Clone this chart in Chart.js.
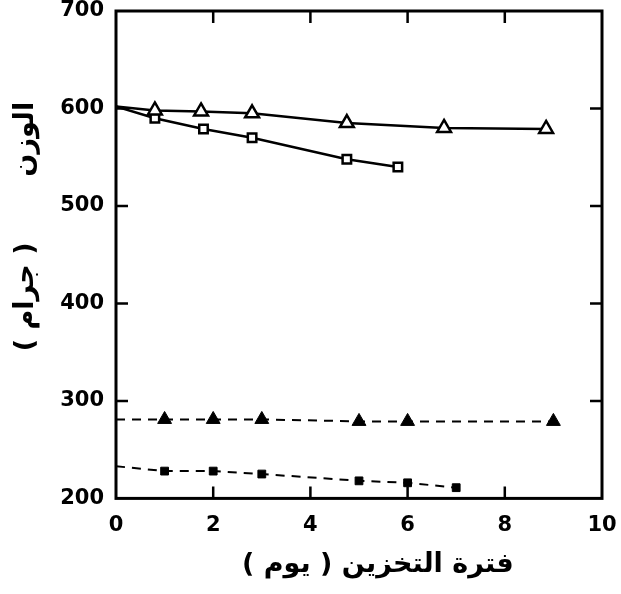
<!DOCTYPE html>
<html>
<head>
<meta charset="utf-8">
<script src="https://cdn.jsdelivr.net/npm/chart.js@4/dist/chart.umd.min.js"></script>
<style>
  html, body { margin: 0; padding: 0; background: #fff; }
  #wrap { width: 621px; height: 594px; }
</style>
</head>
<body>
<div id="wrap"><canvas id="chart" width="621" height="594"></canvas></div>
<script>
// values (storage days vs weight in grams)
const openTriX = [0, 0.8, 1.75, 2.8, 4.75, 6.75, 8.85];
const openTriY = [602, 598, 597, 595, 585, 580, 579];

const openSqX = [0, 0.8, 1.8, 2.8, 4.75, 5.8];
const openSqY = [602, 590, 579, 570, 548, 540];

const fillTriX = [0, 1, 2, 3, 5, 6, 9];
const fillTriY = [281, 281, 281, 281, 279, 279, 279];

const fillSqX = [0, 1, 2, 3, 5, 6, 7];
const fillSqY = [233, 228, 228, 225, 218, 216, 211];

const xTicks = [0, 2, 4, 6, 8, 10];
const yTicks = [200, 300, 400, 500, 600, 700];

// leading spaces nudge the titles to where they sit in the original
const xTitle = '    فترة التخزين ( يوم )\u200F';
const yTitle = '      الوزن       ( جرام )\u200F';

const toPoints = (xs, ys) => xs.map((x, i) => ({ x: x, y: ys[i] }));

// first point sits on the axis with no marker
const markerSize = r => ctx => (ctx.dataIndex === 0 ? 0 : r);

// box round the plot with inward ticks
const framePlugin = {
  id: 'frame',
  afterDraw(chart) {
    const { ctx, chartArea: a, scales } = chart;
    ctx.save();
    ctx.strokeStyle = '#000';
    ctx.lineWidth = 3;
    ctx.strokeRect(a.left, a.top, a.right - a.left, a.bottom - a.top);
    ctx.lineWidth = 2.5;
    const len = 12;
    xTicks.slice(1, -1).forEach(v => {
      const px = scales.x.getPixelForValue(v);
      ctx.beginPath();
      ctx.moveTo(px, a.bottom); ctx.lineTo(px, a.bottom - len);
      ctx.moveTo(px, a.top); ctx.lineTo(px, a.top + len);
      ctx.stroke();
    });
    yTicks.slice(1, -1).forEach(v => {
      const py = scales.y.getPixelForValue(v);
      ctx.beginPath();
      ctx.moveTo(a.left, py); ctx.lineTo(a.left + len, py);
      ctx.moveTo(a.right, py); ctx.lineTo(a.right - len, py);
      ctx.stroke();
    });
    ctx.restore();
  }
};

const tickFont = { family: 'DejaVu Sans', size: 21, weight: 'bold' };
const titleFont = { family: 'DejaVu Sans', size: 27, weight: 'bold' };

new Chart(document.getElementById('chart').getContext('2d'), {
  type: 'line',
  data: {
    datasets: [
      {
        data: toPoints(openTriX, openTriY),
        borderColor: '#000', borderWidth: 2.5,
        pointStyle: 'triangle', pointRadius: markerSize(8),
        pointBackgroundColor: '#fff', pointBorderColor: '#000', pointBorderWidth: 2.5
      },
      {
        data: toPoints(openSqX, openSqY),
        borderColor: '#000', borderWidth: 2.5,
        pointStyle: 'rect', pointRadius: markerSize(6),
        pointBackgroundColor: '#fff', pointBorderColor: '#000', pointBorderWidth: 2.5
      },
      {
        data: toPoints(fillTriX, fillTriY),
        borderColor: '#000', borderWidth: 2, borderDash: [9, 7],
        pointStyle: 'triangle', pointRadius: markerSize(8),
        pointBackgroundColor: '#000', pointBorderColor: '#000', pointBorderWidth: 1
      },
      {
        data: toPoints(fillSqX, fillSqY),
        borderColor: '#000', borderWidth: 2, borderDash: [9, 7],
        pointStyle: 'rect', pointRadius: markerSize(5.5),
        pointBackgroundColor: '#000', pointBorderColor: '#000', pointBorderWidth: 1
      }
    ]
  },
  options: {
    responsive: false,
    animation: false,
    layout: { padding: { top: 11, right: 19, left: 4, bottom: 13 } },
    plugins: { legend: { display: false }, tooltip: { enabled: false } },
    scales: {
      x: {
        type: 'linear', min: 0, max: 10,
        afterBuildTicks: s => { s.ticks = xTicks.map(v => ({ value: v })); },
        afterFit: s => { s.paddingLeft = 0; s.paddingRight = 0; },
        grid: { display: false }, border: { display: false },
        ticks: { color: '#000', font: tickFont, padding: 7, maxRotation: 0 },
        title: { display: true, text: xTitle, color: '#000', font: titleFont, padding: { top: 3, bottom: 0 } }
      },
      y: {
        min: 200, max: 700,
        afterBuildTicks: s => { s.ticks = yTicks.map(v => ({ value: v })); },
        afterFit: s => { s.width = 112; s.paddingTop = 0; s.paddingBottom = 0; },
        grid: { display: false }, border: { display: false },
        ticks: { color: '#000', font: tickFont, padding: 4 },
        title: { display: true, text: yTitle, color: '#000', font: titleFont, padding: { top: 6, bottom: 0 } }
      }
    }
  },
  plugins: [framePlugin]
});
</script>
</body>
</html>
